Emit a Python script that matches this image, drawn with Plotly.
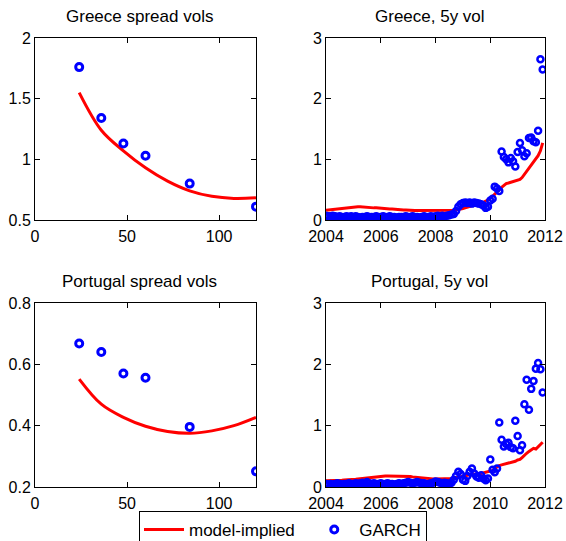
import pandas as pd
import plotly.graph_objects as go

# ---------------- data ----------------
maturities = [24, 36, 48, 60, 84, 120]
greece_spread_garch = [1.76, 1.34, 1.13, 1.03, 0.80, 0.61]
portugal_spread_garch = [0.668, 0.640, 0.570, 0.556, 0.396, 0.251]

model_maturities = [24, 36, 48, 60, 72, 84, 96, 108, 120]
greece_spread_model = [1.55, 1.24, 1.07, 0.93, 0.82, 0.74, 0.695, 0.678, 0.683]
portugal_spread_model = [0.552, 0.470, 0.427, 0.398, 0.381, 0.375, 0.383, 0.400, 0.427]

dates = pd.date_range("2004-01-01", periods=96, freq="MS")

greece_garch = [
    0.07, 0.06, 0.06, 0.07, 0.06, 0.05, 0.06, 0.05, 0.05, 0.06, 0.05, 0.06,
    0.05, 0.06, 0.05, 0.04, 0.05, 0.05, 0.06, 0.05, 0.05, 0.05, 0.06, 0.05,
    0.05, 0.06, 0.05, 0.05, 0.06, 0.05, 0.05, 0.04, 0.05, 0.05, 0.05, 0.06,
    0.05, 0.05, 0.06, 0.05, 0.05, 0.04, 0.05, 0.06, 0.05, 0.05, 0.06, 0.05,
    0.06, 0.07, 0.06, 0.07, 0.06, 0.07, 0.08, 0.09, 0.10, 0.15, 0.22, 0.26,
    0.28, 0.29, 0.28, 0.29, 0.27, 0.29, 0.28, 0.27, 0.26, 0.24, 0.20, 0.22,
    0.32, 0.35, 0.55, 0.52, 0.48, 1.13, 1.04, 1.00, 0.95, 1.02, 0.97, 0.88,
    1.12, 1.27, 1.15, 1.05, 1.10, 1.35, 1.36, 1.30, 1.28, 1.47, 2.65, 2.48,
]
greece_model = [
    0.16, 0.165, 0.17, 0.175, 0.18, 0.185, 0.19, 0.195, 0.20, 0.205, 0.21, 0.215,
    0.22, 0.22, 0.22, 0.22, 0.215, 0.215, 0.21, 0.21, 0.205, 0.20, 0.20, 0.195,
    0.19, 0.19, 0.185, 0.185, 0.18, 0.18, 0.175, 0.175, 0.17, 0.17, 0.165, 0.165,
    0.16, 0.16, 0.16, 0.155, 0.155, 0.155, 0.15, 0.15, 0.15, 0.15, 0.15, 0.15,
    0.15, 0.15, 0.15, 0.155, 0.155, 0.155, 0.16, 0.16, 0.16, 0.165, 0.17, 0.18,
    0.19, 0.20, 0.21, 0.22, 0.23, 0.24, 0.25, 0.26, 0.27, 0.29, 0.31, 0.33,
    0.36, 0.39, 0.42, 0.46, 0.50, 0.54, 0.57, 0.60, 0.61, 0.62, 0.64, 0.65,
    0.66, 0.67, 0.70, 0.75, 0.80, 0.86, 0.90, 0.95, 1.00, 1.06, 1.14, 1.27,
]
portugal_garch = [
    0.05, 0.04, 0.05, 0.04, 0.05, 0.06, 0.05, 0.04, 0.05, 0.05, 0.06, 0.05,
    0.05, 0.06, 0.05, 0.06, 0.07, 0.06, 0.08, 0.06, 0.05, 0.06, 0.05, 0.05,
    0.06, 0.05, 0.05, 0.06, 0.05, 0.05, 0.04, 0.05, 0.06, 0.05, 0.06, 0.07,
    0.08, 0.07, 0.06, 0.07, 0.08, 0.07, 0.06, 0.06, 0.05, 0.05, 0.06, 0.07,
    0.09, 0.08, 0.07, 0.06, 0.07, 0.06, 0.05, 0.07, 0.12, 0.18, 0.25, 0.21,
    0.12, 0.10, 0.18, 0.25, 0.30, 0.22, 0.17, 0.15, 0.19, 0.14, 0.11, 0.14,
    0.45, 0.28, 0.24, 0.30, 1.05, 0.77, 0.66, 0.70, 0.72, 0.65, 0.63, 1.08,
    0.83, 0.60, 0.68, 1.35, 1.75, 1.26, 1.60, 1.73, 1.93, 2.02, 1.92, 1.54,
]
portugal_model = [
    0.10, 0.10, 0.105, 0.105, 0.11, 0.11, 0.11, 0.11, 0.115, 0.115, 0.12, 0.12,
    0.12, 0.125, 0.13, 0.135, 0.14, 0.145, 0.15, 0.155, 0.16, 0.165, 0.17, 0.17,
    0.175, 0.175, 0.18, 0.18, 0.18, 0.18, 0.18, 0.18, 0.18, 0.18, 0.18, 0.175,
    0.175, 0.17, 0.165, 0.16, 0.155, 0.15, 0.145, 0.14, 0.14, 0.135, 0.135, 0.13,
    0.13, 0.13, 0.13, 0.13, 0.13, 0.13, 0.13, 0.135, 0.14, 0.15, 0.16, 0.17,
    0.18, 0.19, 0.19, 0.20, 0.20, 0.21, 0.21, 0.22, 0.22, 0.23, 0.23, 0.24,
    0.25, 0.27, 0.30, 0.33, 0.35, 0.36, 0.37, 0.38, 0.38, 0.39, 0.40, 0.42,
    0.44, 0.45, 0.48, 0.52, 0.55, 0.58, 0.61, 0.63, 0.62, 0.66, 0.69, 0.73,
]

titles = ["Greece spread vols", "Greece, 5y vol", "Portugal spread vols", "Portugal, 5y vol"]
year_ticks = ["2004", "2006", "2008", "2010", "2012"]
legend_names = ["model-implied\u00a0\u00a0", "GARCH"]

# ---------------- figure ----------------
W, H = 566, 541
FONT = "Liberation Sans, Arial, Helvetica, sans-serif"
RED = "#ff0000"
BLUE = "#0000ff"

# pixel boxes of the four axes (left, right, top, bottom)
boxes = [(35, 256, 38, 220), (326, 545, 38, 220), (35, 256, 303, 487), (326, 545, 303, 487)]

fig = go.Figure()

def line(x, y, axis, show, shape="linear"):
    fig.add_trace(go.Scatter(
        x=x, y=y, mode="lines", name=legend_names[0], showlegend=show,
        line=dict(color=RED, width=3, shape=shape),
        xaxis="x" + axis, yaxis="y" + axis, legendgroup="m"))

def dots(x, y, axis, show, size, lw):
    fig.add_trace(go.Scatter(
        x=x, y=y, mode="markers", name=legend_names[1], showlegend=show,
        marker=dict(symbol="circle-open", color=BLUE, size=size, line=dict(width=lw, color=BLUE)),
        xaxis="x" + axis, yaxis="y" + axis, legendgroup="g"))

line(model_maturities, greece_spread_model, "", True, "spline")
dots(maturities, greece_spread_garch, "", True, 7, 3)
line(dates, greece_model, "2", False)
dots(dates, greece_garch, "2", False, 6, 2.5)
line(model_maturities, portugal_spread_model, "3", False, "spline")
dots(maturities, portugal_spread_garch, "3", False, 7, 3)
line(dates, portugal_model, "4", False)
dots(dates, portugal_garch, "4", False, 6, 2.5)

axis_common = dict(
    showline=True, linecolor="black", linewidth=1, mirror="ticks",
    ticks="inside", ticklen=5, tickcolor="black", showgrid=False, zeroline=False,
    tickfont=dict(family=FONT, size=16, color="black"), automargin=False,
)

layout = dict(
    width=W, height=H, margin=dict(l=0, r=0, t=0, b=0, autoexpand=False),
    paper_bgcolor="white", plot_bgcolor="white",
    font=dict(family=FONT, size=16, color="black"),
    showlegend=True,
    legend=dict(
        orientation="h", x=139 / W, xanchor="left", y=1 - 511 / H, yanchor="top",
        xref="container", yref="container",
        bordercolor="black", borderwidth=1, bgcolor="white",
        font=dict(family=FONT, size=17, color="black"),
        itemwidth=40,
    ),
)

date_ticks = dict(type="date", range=["2004-01-01", "2012-01-01"],
                  tickvals=[y + "-01-01" for y in year_ticks], ticktext=year_ticks)
xcfg = [
    dict(range=[0, 120], tickvals=[0, 50, 100]),
    date_ticks,
    dict(range=[0, 120], tickvals=[0, 50, 100]),
    date_ticks,
]
ycfg = [
    dict(range=[0.5, 2], tickvals=[0.5, 1, 1.5, 2], ticktext=["0.5", "1", "1.5", "2"]),
    dict(range=[0, 3], tickvals=[0, 1, 2, 3]),
    dict(range=[0.2, 0.8], tickvals=[0.2, 0.4, 0.6, 0.8]),
    dict(range=[0, 3], tickvals=[0, 1, 2, 3]),
]

annotations = []
for i, (l, r, t, b) in enumerate(boxes):
    suffix = "" if i == 0 else str(i + 1)
    xa = dict(axis_common, domain=[l / W, r / W], anchor="y" + suffix, ticklabelstandoff=2, **xcfg[i])
    ya = dict(axis_common, domain=[1 - b / H, 1 - t / H], anchor="x" + suffix, **ycfg[i])
    layout["xaxis" + suffix] = xa
    layout["yaxis" + suffix] = ya
    annotations.append(dict(
        text=titles[i], x=((l + r) / 2 - 6) / W, y=1 - (t - 22) / H, xref="paper", yref="paper",
        xanchor="center", yanchor="middle", showarrow=False,
        font=dict(family=FONT, size=17, color="black")))
layout["annotations"] = annotations

fig.update_layout(**layout)
fig.write_html(
    "out.html",
    config={"displayModeBar": False},
    post_script="document.body.style.margin='0';document.body.style.overflow='hidden';",
)
